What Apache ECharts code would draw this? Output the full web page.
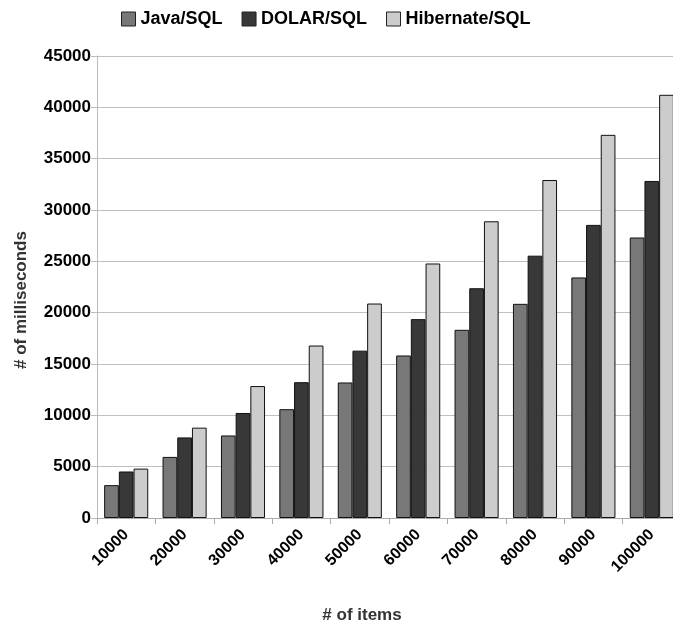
<!DOCTYPE html>
<html><head><meta charset="utf-8">
<script src="https://cdn.jsdelivr.net/npm/echarts@6/dist/echarts.min.js"></script>
<style>html,body{margin:0;padding:0;background:#fff;overflow:hidden;width:673px;height:629px}
#wrap{position:relative;width:673px;height:629px;overflow:hidden}
#c{position:absolute;left:0;top:0;width:681px;height:629px}</style>
</head><body><div id="wrap"><div id="c"></div></div>
<script>
const categories = ['10000','20000','30000','40000','50000','60000','70000','80000','90000','100000'];
const javaSQL = [3200, 5950, 8040, 10600, 13200, 15830, 18330, 20860, 23430, 27320];
const dolarSQL = [4530, 7850, 10230, 13230, 16300, 19370, 22380, 25550, 28550, 32830];
const hibernateSQL = [4810, 8800, 12850, 16800, 20890, 24790, 28900, 32920, 37320, 41220];
const seriesNames = ['Java/SQL', 'DOLAR/SQL', 'Hibernate/SQL'];
const font = 'Liberation Sans, Arial, sans-serif';
const chart = echarts.init(document.getElementById('c'));
function bar(name, data, color) {
  return {name, type:'bar', data, barGap:'0%', barCategoryGap:'24.5%',
    itemStyle:{color, borderColor:'#111', borderWidth:1}};
}
chart.setOption({
  animation:false,
  textStyle:{fontFamily:font},
  legend:{top:5, left:116, itemWidth:14, itemHeight:14, itemGap:19,
    icon:'rect',
    itemStyle:{borderColor:'#222', borderWidth:1},
    textStyle:{fontFamily:font, fontWeight:'bold', fontSize:18, color:'#000'}},
  grid:{left:97, top:56, bottom:99, right:0, containLabel:false},
  xAxis:{type:'category', data:categories, name:'# of items', nameLocation:'middle', nameGap:89,
    nameTextStyle:{fontFamily:font, fontWeight:'bold', fontSize:17, color:'#333', padding:[0,54,0,0]},
    axisLine:{lineStyle:{color:'#aaa', width:1}},
    axisTick:{show:true, alignWithLabel:false, length:6, lineStyle:{color:'#aaa'}},
    axisLabel:{rotate:45, fontFamily:font, fontWeight:'bold', fontSize:16, color:'#000', margin:14}},
  yAxis:{type:'value', min:0, max:45000, interval:5000, name:'# of milliseconds', nameLocation:'middle', nameGap:67,
    nameTextStyle:{fontFamily:font, fontWeight:'bold', fontSize:17, color:'#333', padding:[0,0,0,-26]},
    axisLine:{show:true, lineStyle:{color:'#bbb'}},
    axisTick:{show:true, length:6, lineStyle:{color:'#bbb'}},
    splitLine:{lineStyle:{color:'#c0c0c0', width:1}},
    axisLabel:{fontFamily:font, fontWeight:'bold', fontSize:17, color:'#000', margin:6, formatter:v => String(v)}},
  series:[bar(seriesNames[0], javaSQL, '#787878'), bar(seriesNames[1], dolarSQL, '#383838'), bar(seriesNames[2], hibernateSQL, '#cccccc')]
});
</script></body></html>
